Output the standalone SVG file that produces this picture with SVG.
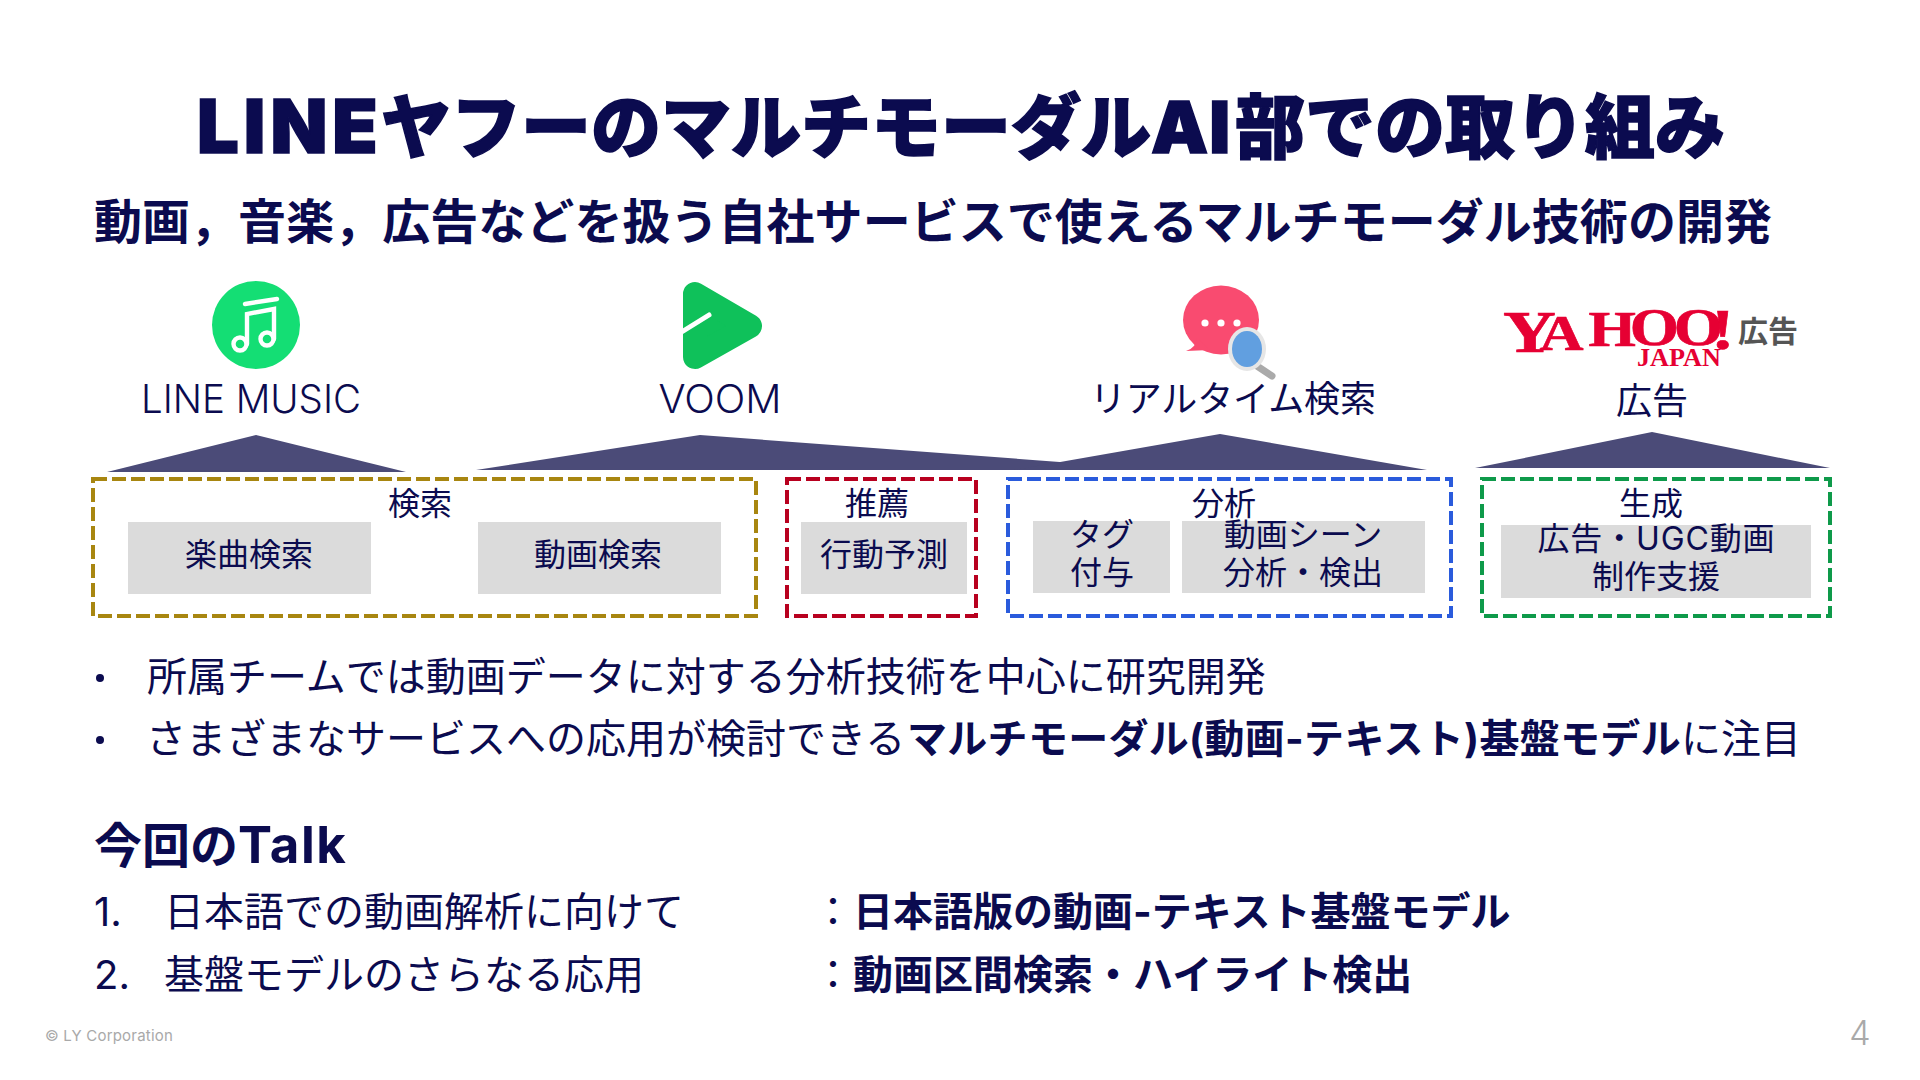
<svg xmlns="http://www.w3.org/2000/svg" width="1920" height="1080" viewBox="0 0 1920 1080">
<style>
text{font-family:"Inter","Noto Sans CJK JP",sans-serif;fill:#0b0b4f}
.b{font-weight:700}
.t36{font-size:36px;text-anchor:middle}
.t40{font-size:40px}
.t32{font-size:32px;text-anchor:middle}
.dash{fill:none;stroke-width:4;stroke-dasharray:14 5}
.g{fill:#dbdbdb}
.tri{fill:#4b4b78}
.logo{font-family:"Liberation Serif",serif;fill:#e60033;stroke:#e60033;font-weight:700}
</style>
<rect width="1920" height="1080" fill="#fff"/>
<g id="title">
<text y="153" font-size="70" font-weight="900" stroke="#0b0b4f" stroke-width="1.5"><tspan x="197" font-size="74" letter-spacing="5">LINE</tspan><tspan x="381">ヤフーのマルチモーダル</tspan><tspan x="1151" font-size="72" letter-spacing="1">AI</tspan><tspan x="1235">部での取り組み</tspan></text>
<text x="94" y="239" font-size="48" class="b" textLength="1678">動画，音楽，広告などを扱う自社サービスで使えるマルチモーダル技術の開発</text>
</g>
<g id="connectors">
<polygon class="tri" points="256,435 406,472 107,472"/>
<polygon class="tri" points="700,435 1167,470 476,470"/>
<polygon class="tri" points="1220,434 1427,470 1014,470"/>
<polygon class="tri" points="1652,432 1830,468 1475,468"/>
</g>
<g id="line-music">
<circle cx="256" cy="325" r="44" fill="#14de74"/>
<g fill="none" stroke="#fff" stroke-width="4.4" stroke-linecap="round">
<path d="M245 304L277 299"/>
<path d="M247 344V314L274 309V339"/>
<circle cx="240" cy="344" r="6.5"/>
<circle cx="267" cy="339" r="6.5"/>
</g>
<text class="t36" x="251" y="413" style="font-size:39px;font-weight:300" textLength="220" lengthAdjust="spacingAndGlyphs">LINE MUSIC</text>
</g>
<g id="voom">
<polygon points="695,294 750,326 695,357" fill="#0fc15a" stroke="#0fc15a" stroke-width="24" stroke-linejoin="round"/>
<path d="M680 333L709 315" stroke="#fff" stroke-width="5" stroke-linecap="round"/>
<text class="t36" x="720" y="413" style="font-size:39px;font-weight:300" textLength="123" lengthAdjust="spacingAndGlyphs">VOOM</text>
</g>
<g id="realtime-search">
<ellipse cx="1221" cy="320" rx="38" ry="34.5" fill="#f94b70"/>
<path d="M1186 351Q1196 348 1197 338L1210 350Z" fill="#f94b70"/>
<circle cx="1205" cy="323" r="3.6" fill="#fff"/>
<circle cx="1221" cy="323" r="3.6" fill="#fff"/>
<circle cx="1237" cy="323" r="3.6" fill="#fff"/>
<path d="M1257 366L1272 376" stroke="#aaa" stroke-width="7" stroke-linecap="round"/>
<ellipse cx="1247" cy="349" rx="19" ry="22" fill="#e6e6e6"/>
<ellipse cx="1247" cy="349" rx="15" ry="18" fill="#619fe0"/>
<text class="t36" x="1233" y="412" textLength="286">リアルタイム検索</text>
</g>
<g id="yahoo-ad">
<text class="logo" y="352" font-size="60" stroke-width="0.6" transform="translate(1503 0) scale(1.22 1)"><tspan x="0">Y</tspan><tspan x="30" dy="-2" font-size="50">A</tspan><tspan x="70" dy="-4" font-size="50">H</tspan><tspan x="104" dy="-1" font-size="52">O</tspan><tspan x="140" font-size="52">O</tspan><tspan x="170.5" dy="4" font-size="58">!</tspan></text>
<text class="logo" x="1637" y="366" textLength="84" lengthAdjust="spacingAndGlyphs" font-size="25" stroke-width="0">JAPAN</text>
<text x="1738" y="342" class="b" style="fill:#555;font-size:30px">広告</text>
<text class="t36" x="1652" y="414">広告</text>
</g>
<g id="search">
<rect class="dash" x="93" y="479" width="663" height="137" stroke="#a88610"/>
<text class="t32" x="420" y="515">検索</text>
<rect class="g" x="128" y="522" width="243" height="72"/>
<text class="t32" x="249" y="566">楽曲検索</text>
<rect class="g" x="478" y="522" width="243" height="72"/>
<text class="t32" x="598" y="566">動画検索</text>
</g>
<g id="recommend">
<rect class="dash" x="787" y="479" width="189" height="137" stroke="#b8001f"/>
<text class="t32" x="877" y="515">推薦</text>
<rect class="g" x="801" y="522" width="166" height="72"/>
<text class="t32" x="884" y="566">行動予測</text>
</g>
<g id="analysis">
<rect class="dash" x="1008" y="479" width="443" height="137" stroke="#2a5bdc"/>
<text class="t32" x="1224" y="515">分析</text>
<rect class="g" x="1033" y="521" width="137" height="72"/>
<text class="t32" x="1102" y="546">タグ</text>
<text class="t32" x="1102" y="584">付与</text>
<rect class="g" x="1182" y="521" width="243" height="72"/>
<text class="t32" x="1303" y="546">動画シーン</text>
<text class="t32" x="1303" y="584">分析・検出</text>
</g>
<g id="generation">
<rect class="dash" x="1482" y="479" width="348" height="137" stroke="#0e9a4a"/>
<text class="t32" x="1651" y="515">生成</text>
<rect class="g" x="1501" y="525" width="310" height="73"/>
<text class="t32" x="1656" y="550" textLength="237">広告・UGC動画</text>
<text class="t32" x="1656" y="588">制作支援</text>
</g>
<g id="bullets">
<circle cx="100" cy="678" r="4" fill="#0b0b4f"/>
<text class="t40" x="147" y="691">所属チームでは動画データに対する分析技術を中心に研究開発</text>
<circle cx="100" cy="740" r="4" fill="#0b0b4f"/>
<text class="t40" x="146" y="753">さまざまなサービスへの応用が検討できる<tspan class="b" x="907" letter-spacing="0.3">マルチモーダル(動画-テキスト)基盤モデル</tspan><tspan x="1681">に注目</tspan></text>
</g>
<g id="talk">
<text x="94" y="863" font-size="48" class="b">今回の<tspan font-size="51" letter-spacing="1.5">Talk</tspan></text>
<text class="t40" x="94" y="926">1.</text>
<text class="t40" x="164" y="926">日本語での動画解析に向けて</text>
<text class="t40" x="813" y="926">：<tspan class="b">日本語版の動画-テキスト基盤モデル</tspan></text>
<text class="t40" x="94" y="989">2.</text>
<text class="t40" x="164" y="989">基盤モデルのさらなる応用</text>
<text class="t40" x="813" y="989">：<tspan class="b">動画区間検索・ハイライト検出</tspan></text>
</g>
<g id="footer">
<text x="45" y="1041" font-size="15" letter-spacing="0.2" style="fill:#a9a9a9">© LY Corporation</text>
<text x="1860" y="1045" font-size="34" text-anchor="middle" style="fill:#a9a9a9;font-weight:300">4</text>
</g>
</svg>
